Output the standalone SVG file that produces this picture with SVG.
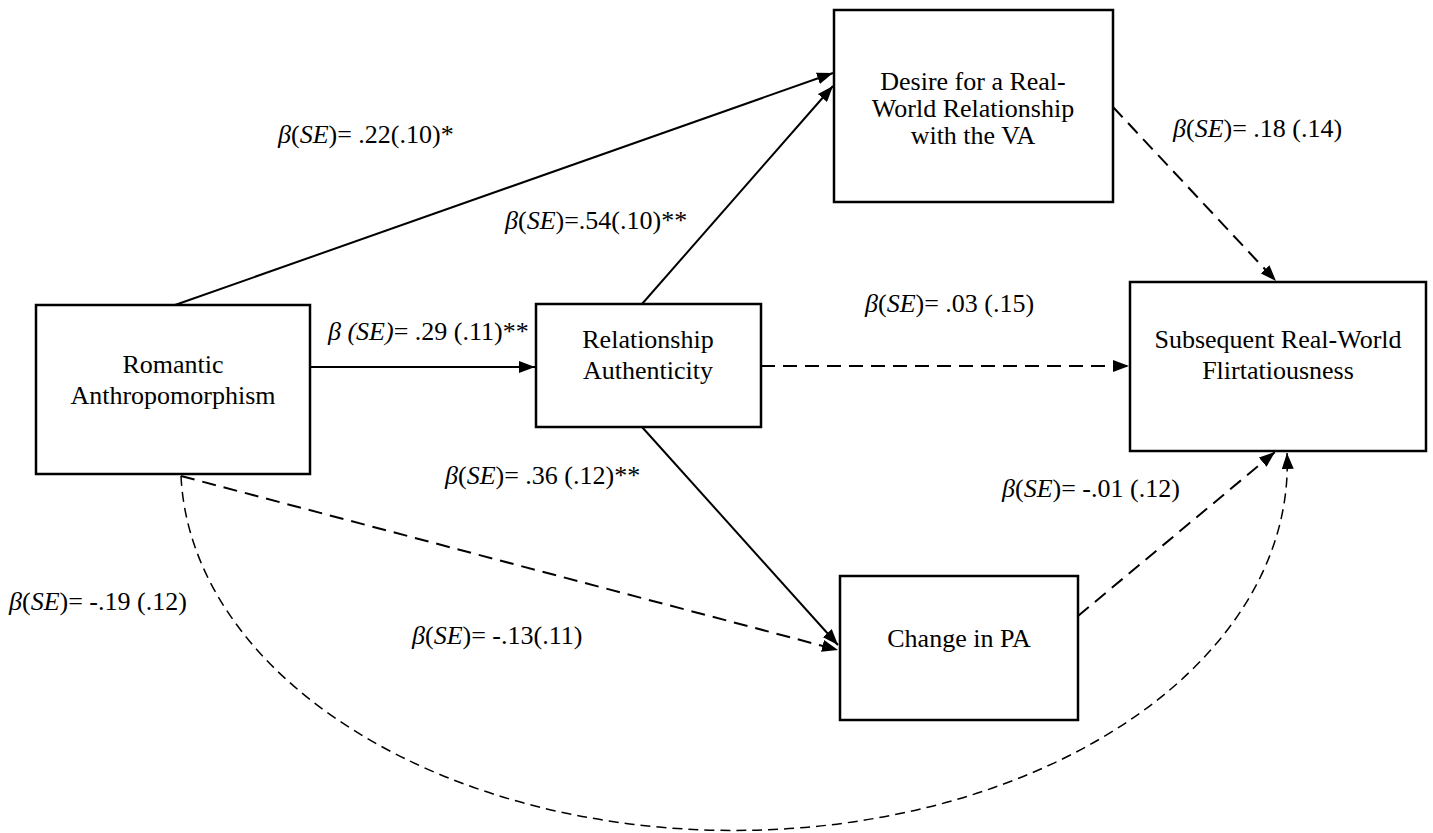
<svg xmlns="http://www.w3.org/2000/svg" width="1433" height="833" viewBox="0 0 1433 833">
<style>
.box{fill:#fff;stroke:#000;stroke-width:2.5}
.t{font-family:"Liberation Serif","Times New Roman",serif;font-size:26px;fill:#000}
.c{text-anchor:middle}
.i{font-style:italic}
.e{fill:none;stroke:#000;stroke-width:2}
.d{stroke-dasharray:14 8}
.cv{fill:none;stroke:#000;stroke-width:1.5;stroke-dasharray:10 6}
</style>
<defs>
<marker id="ah" markerUnits="userSpaceOnUse" viewBox="0 0 16 12" refX="16" refY="6" markerWidth="16" markerHeight="12" orient="auto">
<path d="M0,0 L16,6 L0,12 z" fill="#000"/>
</marker>
</defs>
<rect width="1433" height="833" fill="#fff"/>
<g id="connectors">
<line class="e" x1="175" y1="305" x2="833" y2="73" marker-end="url(#ah)"/>
<line class="e" x1="642" y1="304" x2="833" y2="86" marker-end="url(#ah)"/>
<line class="e" x1="310" y1="367" x2="535" y2="367" marker-end="url(#ah)"/>
<line class="e d" x1="761" y1="366" x2="1129" y2="366" marker-end="url(#ah)"/>
<line class="e d" x1="1113" y1="107" x2="1276" y2="281" marker-end="url(#ah)"/>
<line class="e" x1="642" y1="427" x2="838" y2="645" marker-end="url(#ah)"/>
<line class="e d" x1="181" y1="476" x2="838" y2="650" marker-end="url(#ah)"/>
<line class="e d" x1="1078" y1="616" x2="1275" y2="452" marker-end="url(#ah)"/>
<path class="cv" d="M181,476 A553 366 0 0 0 1287 453" marker-end="url(#ah)"/>
</g>
<g id="labels">
<text class="t" x="278" y="143"><tspan class="i">β</tspan>(<tspan class="i">SE</tspan>)= .22(.10)*</text>
<text class="t" x="505" y="229"><tspan class="i">β</tspan>(<tspan class="i">SE</tspan>)=.54(.10)**</text>
<text class="t" x="328" y="340"><tspan class="i">β (SE)</tspan>= .29 (.11)**</text>
<text class="t" x="865" y="312"><tspan class="i">β</tspan>(<tspan class="i">SE</tspan>)= .03 (.15)</text>
<text class="t" x="1173" y="137"><tspan class="i">β</tspan>(<tspan class="i">SE</tspan>)= .18 (.14)</text>
<text class="t" x="445" y="484"><tspan class="i">β</tspan>(<tspan class="i">SE</tspan>)= .36 (.12)**</text>
<text class="t" x="1002" y="497"><tspan class="i">β</tspan>(<tspan class="i">SE</tspan>)= -.01 (.12)</text>
<text class="t" x="9" y="610"><tspan class="i">β</tspan>(<tspan class="i">SE</tspan>)= -.19 (.12)</text>
<text class="t" x="412" y="644"><tspan class="i">β</tspan>(<tspan class="i">SE</tspan>)= -.13(.11)</text>
</g>
<g id="romantic">
<rect class="box" x="36" y="305" width="274" height="169"/>
<text class="t c" x="173" y="373">Romantic</text>
<text class="t c" x="173" y="404">Anthropomorphism</text>
</g>
<g id="authenticity">
<rect class="box" x="536" y="304" width="225" height="123"/>
<text class="t c" x="648" y="348">Relationship</text>
<text class="t c" x="648" y="379">Authenticity</text>
</g>
<g id="desire">
<rect class="box" x="834" y="10" width="279" height="192"/>
<text class="t c" x="973" y="90">Desire for a Real-<tspan x="973" dy="27">World Relationship</tspan><tspan x="973" dy="27">with the VA</tspan></text>
</g>
<g id="flirt">
<rect class="box" x="1130" y="282" width="296" height="169"/>
<text class="t c" x="1278" y="348">Subsequent Real-World</text>
<text class="t c" x="1278" y="379">Flirtatiousness</text>
</g>
<g id="pa">
<rect class="box" x="840" y="576" width="238" height="144"/>
<text class="t c" x="959" y="647">Change in PA</text>
</g>
</svg>
